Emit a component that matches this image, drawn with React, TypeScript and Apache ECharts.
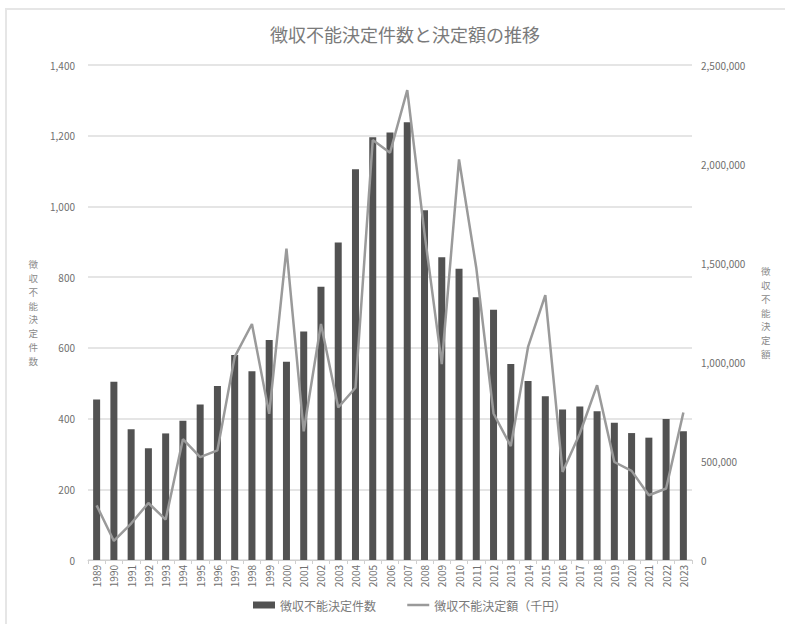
import React, { useEffect, useRef } from "react";
import * as echarts from "echarts";

const years = [
  "1989", "1990", "1991", "1992", "1993", "1994", "1995", "1996", "1997", "1998",
  "1999", "2000", "2001", "2002", "2003", "2004", "2005", "2006", "2007", "2008",
  "2009", "2010", "2011", "2012", "2013", "2014", "2015", "2016", "2017", "2018",
  "2019", "2020", "2021", "2022", "2023",
];

const counts = [
  454, 504, 370, 316, 358, 394, 440, 492, 580, 534,
  622, 561, 646, 773, 898, 1105, 1196, 1209, 1238, 989,
  856, 824, 743, 708, 554, 506, 463, 426, 434, 421,
  388, 359, 346, 399, 364,
];

const amounts = [
  276000, 96000, 184000, 288000, 204000, 610000, 520000, 554000, 1026000, 1192000,
  738000, 1573000, 650000, 1192000, 770000, 870000, 2121000, 2057000, 2373000, 1650000,
  989000, 2023000, 1475000, 740000, 575000, 1076000, 1338000, 445000, 639000, 883000,
  495000, 450000, 327000, 361000, 745000,
];

const leftTicks = { min: 0, max: 1400, interval: 200 };
const rightTicks = { min: 0, max: 2500000, interval: 500000 };

const title = "徴収不能決定件数と決定額の推移";
const countName = "徴収不能決定件数";
const amountName = "徴収不能決定額（千円）";
const leftAxisName = "徴収不能決定件数";
const rightAxisName = "徴収不能決定額";

const FONT = '"Noto Sans CJK JP", "Noto Sans", sans-serif';
const fmt = (v: number) => v.toLocaleString("en-US");
const vertical = (s: string) => s.split("").join("\n");

export default function App() {
  const ref = useRef<HTMLDivElement>(null);
  useEffect(() => {
    if (!ref.current) return;
    const chart = echarts.init(ref.current, undefined, { renderer: "svg" });
    chart.setOption({
      animation: false,
      backgroundColor: "#ffffff",
      textStyle: { fontFamily: FONT },
      title: {
        text: title,
        left: 400,
        top: 20,
        textAlign: "center",
        textStyle: { fontFamily: FONT, fontSize: 18, fontWeight: "normal", color: "#7a7a7a" },
      },
      legend: {
        bottom: 8,
        left: 248,
        itemGap: 30,
        itemWidth: 22,
        itemHeight: 7,
        textStyle: { fontFamily: FONT, fontSize: 12, color: "#7a7a7a" },
        data: [
          { name: countName, icon: "rect" },
          {
            name: amountName,
            itemStyle: { color: "rgba(0,0,0,0)", borderWidth: 0, opacity: 0 },
            lineStyle: { color: "#9a9a9a", width: 2.5, opacity: 1 },
          },
        ],
      },
      grid: { left: 88, right: 93, top: 65, bottom: 64, containLabel: false },
      xAxis: {
        type: "category",
        data: years,
        axisLine: { lineStyle: { color: "#d0d0d0", width: 1 } },
        axisTick: { show: true, length: 4, lineStyle: { color: "#d0d0d0" } },
        axisLabel: {
          rotate: 90,
          fontSize: 10,
          color: "#6f6f6f",
          margin: 5,
          fontFamily: FONT,
          interval: 0,
        },
      },
      yAxis: [
        {
          type: "value",
          min: leftTicks.min,
          max: leftTicks.max,
          interval: leftTicks.interval,
          name: vertical(leftAxisName),
          nameLocation: "middle",
          nameRotate: 0,
          nameGap: 50,
          nameTextStyle: { fontFamily: FONT, fontSize: 9.5, color: "#8a8a8a", lineHeight: 13.8 },
          axisLine: { show: false },
          axisTick: { show: false },
          axisLabel: { fontSize: 10, color: "#6f6f6f", margin: 13, formatter: fmt, fontFamily: FONT },
          splitLine: { lineStyle: { color: "#dcdcdc", width: 1.5 } },
        },
        {
          type: "value",
          min: rightTicks.min,
          max: rightTicks.max,
          interval: rightTicks.interval,
          name: vertical(rightAxisName),
          nameLocation: "middle",
          nameRotate: 0,
          nameGap: 69,
          nameTextStyle: { fontFamily: FONT, fontSize: 9.5, color: "#8a8a8a", lineHeight: 13.8, padding: [0, 0, 16, 0] },
          axisLine: { show: false },
          axisTick: { show: false },
          axisLabel: { fontSize: 10, color: "#6f6f6f", margin: 9, formatter: fmt, fontFamily: FONT },
          splitLine: { show: false },
        },
      ],
      series: [
        {
          name: countName,
          type: "bar",
          yAxisIndex: 0,
          data: counts,
          barWidth: 7,
          itemStyle: { color: "#525252" },
        },
        {
          name: amountName,
          type: "line",
          yAxisIndex: 1,
          data: amounts,
          symbol: "none",
          lineStyle: { color: "#9a9a9a", width: 2.5 },
          itemStyle: { color: "#9a9a9a" },
        },
      ],
    });
    return () => chart.dispose();
  }, []);
  return (
    <div style={{ position: "fixed", left: 0, top: 0, width: 785, height: 624, background: "#fff" }}>
      <div ref={ref} style={{ position: "absolute", left: 0, top: 0, width: 785, height: 624 }} />
      <div
        style={{
          position: "absolute",
          left: 5,
          top: 8,
          width: 790,
          height: 630,
          borderLeft: "2px solid #e6e6e6",
          borderTop: "2px solid #e6e6e6",
          pointerEvents: "none",
        }}
      />
    </div>
  );
}
